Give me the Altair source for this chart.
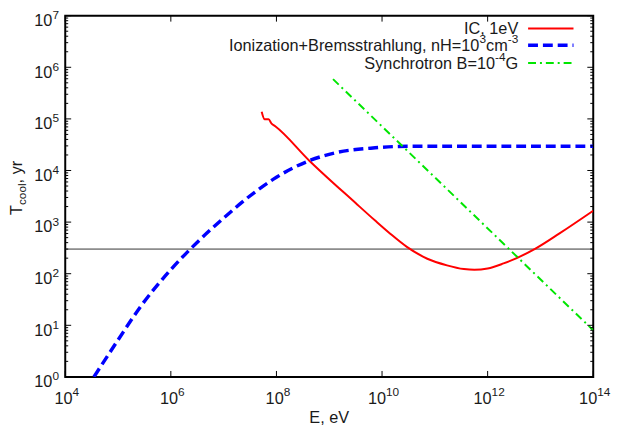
import altair as alt
import pandas as pd

# ---------------- data ----------------
ic_E = [5.25e7, 6.0e7, 7.1e7, 8.1e7, 9.5e7, 4.2e8, 3.16e9, 7.4e9, 1.41e10, 2.95e10,
        7.2e10, 1.7e11, 3.55e11, 5.6e11, 1.0e12, 2.0e12, 7.9e12, 2.3e13, 1.0e14]
ic_T = [1.38e5, 9.8e4, 9.8e4, 8.1e4, 7.2e4, 1.55e4, 2.34e3, 1.07e3, 6.03e2, 3.31e2,
        1.95e2, 1.45e2, 1.23e2, 1.19e2, 1.26e2, 1.58e2, 3.02e2, 6.03e2, 1.66e3]

ion_E = [3.5e4, 1.0e5, 2.75e5, 1.0e6, 2.3e6, 1.0e7, 4.3e7, 1.0e8, 4.2e8, 1.3e9,
         7.4e9, 3.2e10, 1.0e14]
ion_T = [1.0, 5.2, 24, 120, 295, 1.2e3, 4.1e3, 7.4e3, 1.55e4, 2.2e4,
         2.75e4, 2.95e4, 2.95e4]

syn_E = [1.18e9, 1.0e14]
syn_T = [5.9e5, 8.0]

ref_E = [1.0e4, 1.0e14]
ref_T = [300, 300]

x_tick_exp = [4, 6, 8, 10, 12, 14]
y_tick_exp = [0, 1, 2, 3, 4, 5, 6, 7]
x_tick_major = [10.0 ** e for e in x_tick_exp]
y_tick_major = [10.0 ** e for e in y_tick_exp]
y_tick_minor = [m * 10.0 ** d for d in range(7) for m in range(2, 10)]

# legend rows: (text, is_superscript) pieces
legend_rows = [
    [("IC, 1eV", False)],
    [("Ionization+Bremsstrahlung, nH=10", False), ("3", True), ("cm", False), ("-3", True)],
    [("Synchrotron B=10", False), ("-4", True), ("G", False)],
]
legend_colors = ["#ff0000", "#0000ff", "#00e600"]
legend_dash = [[1, 0], [10, 5], [8, 4, 2, 4]]
legend_width = [2.0, 3.5, 2.0]

x_title = "E, eV"
y_title = [("T", False), ("cool", True), (", yr", False)]

# ---------------- layout ----------------
W, H = 535, 366
FONT = "Liberation Sans"
FS, FS_SUP = 16.5, 12
ARIAL = {" ": 278, "+": 584, ",": 278, "-": 333, "=": 584, "B": 667, "C": 722, "E": 667,
         "G": 778, "H": 722, "I": 278, "V": 667, "T": 611, "S": 667, "a": 556, "b": 556,
         "c": 500, "e": 556, "g": 556, "h": 556, "i": 222, "l": 222, "m": 833, "n": 556,
         "o": 556, "r": 333, "s": 500, "t": 278, "u": 556, "y": 500, "z": 500}


def tw(s, fs):
    return sum(ARIAL.get(c, 556) for c in s) * fs / 1000.0


xs = alt.Scale(type="log", domain=[1e4, 1e14])
ys = alt.Scale(type="log", domain=[1, 1e7])


def xe():
    return alt.X("E:Q", scale=xs, axis=None)


def ye():
    return alt.Y("T:Q", scale=ys, axis=None)


def line(E, T, **kw):
    return alt.Chart(pd.DataFrame({"E": E, "T": T})).mark_line(clip=True, **kw).encode(x=xe(), y=ye())


ref = line(ref_E, ref_T, color="#333333", strokeWidth=1)
ic = line(ic_E, ic_T, color=legend_colors[0], strokeWidth=legend_width[0], interpolate="monotone")
ion = line(ion_E, ion_T, color=legend_colors[1], strokeWidth=legend_width[1],
           strokeDash=legend_dash[1], interpolate="monotone")
syn = line(syn_E, syn_T, color=legend_colors[2], strokeWidth=legend_width[2],
           strokeDash=legend_dash[2])

# ---------------- inward ticks on all four sides ----------------
xt = pd.DataFrame({"E": x_tick_major})
ytM = pd.DataFrame({"T": y_tick_major})
ytm = pd.DataFrame({"T": y_tick_minor})
TK = dict(color="black", strokeWidth=1)
tick_layers = [
    alt.Chart(xt).mark_rule(**TK).encode(x=xe(), y=alt.value(H), y2=alt.value(H - 6)),
    alt.Chart(xt).mark_rule(**TK).encode(x=xe(), y=alt.value(0), y2=alt.value(6)),
    alt.Chart(ytM).mark_rule(**TK).encode(y=ye(), x=alt.value(0), x2=alt.value(6)),
    alt.Chart(ytM).mark_rule(**TK).encode(y=ye(), x=alt.value(W), x2=alt.value(W - 6)),
    alt.Chart(ytm).mark_rule(**TK).encode(y=ye(), x=alt.value(0), x2=alt.value(3)),
    alt.Chart(ytm).mark_rule(**TK).encode(y=ye(), x=alt.value(W), x2=alt.value(W - 3)),
]

# ---------------- tick labels "10" + superscript exponent ----------------
TXT = dict(font=FONT, color="#1a1a1a")
label_layers = []
# y axis
ydf = pd.DataFrame({"T": y_tick_major, "base": ["10"] * len(y_tick_major),
                    "exp": [str(e) for e in y_tick_exp]})
label_layers.append(alt.Chart(ydf).mark_text(align="right", baseline="alphabetic", dx=-13, dy=10.5,
                                             fontSize=FS, **TXT)
                    .encode(y=ye(), x=alt.value(0), text="base:N"))
label_layers.append(alt.Chart(ydf).mark_text(align="left", baseline="alphabetic", dx=-13, dy=3.5,
                                             fontSize=FS_SUP, **TXT)
                    .encode(y=ye(), x=alt.value(0), text="exp:N"))
# x axis (grouped by exponent length so the whole label is centred on its tick)
w10 = tw("10", FS)
for ndig in (1, 2):
    vals = [v for v, e in zip(x_tick_major, x_tick_exp) if len(str(e)) == ndig]
    exps = [str(e) for e in x_tick_exp if len(str(e)) == ndig]
    off = (w10 - tw("0" * ndig, FS_SUP)) / 2 + 1.5
    xdf = pd.DataFrame({"E": vals, "base": ["10"] * len(vals), "exp": exps})
    label_layers.append(alt.Chart(xdf).mark_text(align="right", baseline="alphabetic", dx=off,
                                                 fontSize=FS, **TXT)
                        .encode(x=xe(), y=alt.value(H + 27), text="base:N"))
    label_layers.append(alt.Chart(xdf).mark_text(align="left", baseline="alphabetic", dx=off,
                                                 fontSize=FS_SUP, **TXT)
                        .encode(x=xe(), y=alt.value(H + 19), text="exp:N"))

# axis titles
label_layers.append(alt.Chart(pd.DataFrame({"t": [x_title]})).mark_text(
    align="center", baseline="alphabetic", fontSize=FS, **TXT
).encode(text="t:N", x=alt.value(W / 2), y=alt.value(H + 47)))

ypos = 202
for part, is_sub in y_title:
    fs = FS_SUP if is_sub else FS
    label_layers.append(alt.Chart(pd.DataFrame({"t": [part]})).mark_text(
        angle=270, align="left", baseline="alphabetic", fontSize=fs, **TXT
    ).encode(text="t:N", x=alt.value(-40 if is_sub else -44), y=alt.value(ypos)))
    ypos -= tw(part, fs)

# ---------------- legend (top right, text to the left of the sample) ----------------
leg_y = [13, 30, 48]
legend_layers = []
for pieces, col, dash, sw, yy in zip(legend_rows, legend_colors, legend_dash, legend_width, leg_y):
    xr = 459.0
    for text, is_sup in reversed(pieces):
        fs = FS_SUP if is_sup else FS
        legend_layers.append(alt.Chart(pd.DataFrame({"t": [text]})).mark_text(
            align="right", baseline="alphabetic", fontSize=fs, **TXT
        ).encode(text="t:N", x=alt.value(xr), y=alt.value(yy - 2 if is_sup else yy + 6)))
        xr -= tw(text, fs)
    legend_layers.append(alt.Chart(pd.DataFrame({"t": [pieces[0][0]]})).mark_rule(
        color=col, strokeWidth=sw, strokeDash=dash
    ).encode(x=alt.value(469), x2=alt.value(515), y=alt.value(yy)))

chart = alt.layer(ref, ic, ion, syn, *tick_layers, *label_layers, *legend_layers).properties(
    width=W, height=H,
    background="white",
    autosize=alt.AutoSizeParams(type="none"),
    padding={"left": 58, "top": 5, "right": 18, "bottom": 50},
).configure_view(stroke="black", strokeWidth=2)

chart.save("out.html", embed_options={"renderer": "svg", "actions": False})
